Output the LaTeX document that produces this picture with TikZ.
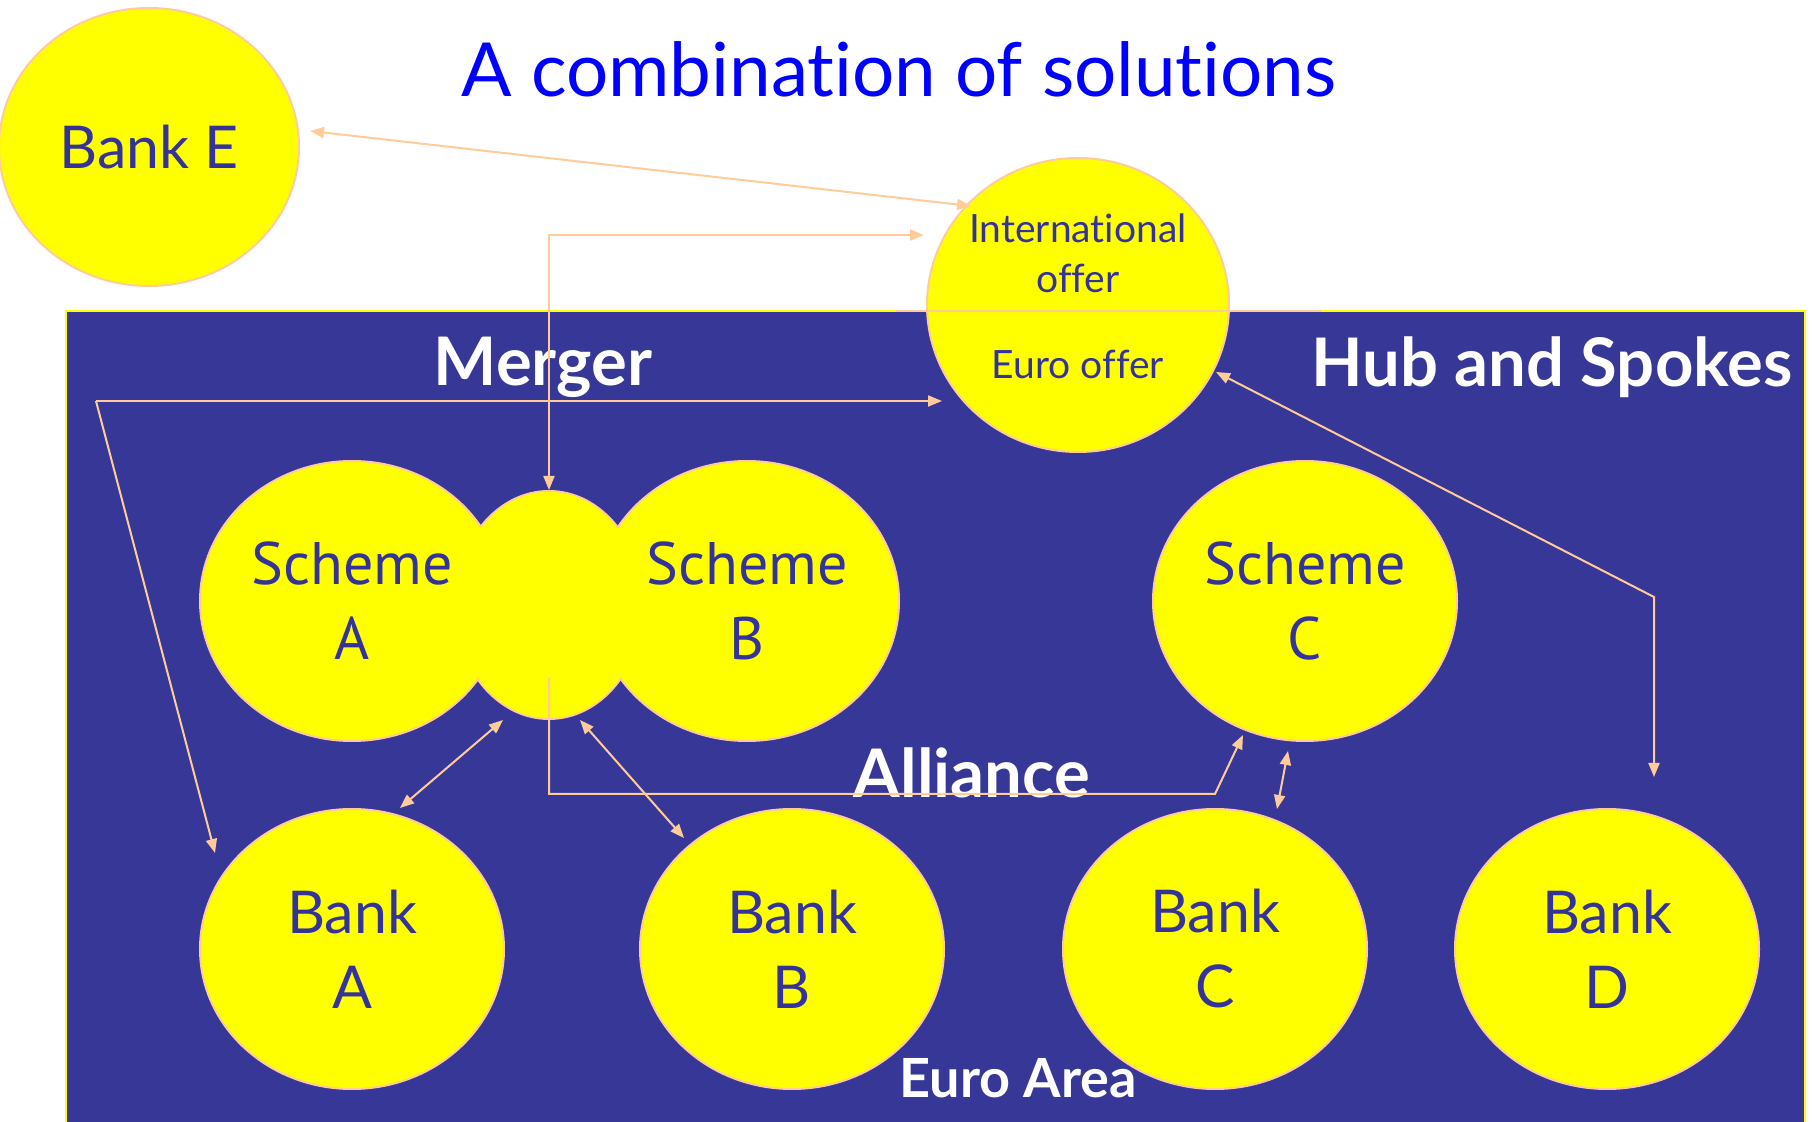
\documentclass[tikz,border=0pt]{standalone}
\usepackage{fontspec}
\setmainfont{Lato}[Ligatures=NoCommon]
\newfontfamily\schemefont{PT Sans}
\usetikzlibrary{shapes.geometric,arrows.meta,calc}
\definecolor{areablue}{RGB}{55,55,151}
\definecolor{inkblue}{RGB}{51,51,153}
\definecolor{peach}{RGB}{255,204,153}
\definecolor{titleblue}{RGB}{0,0,255}
\definecolor{bulb}{RGB}{255,255,0}
\begin{document}
\begin{tikzpicture}[x=0.5pt,y=-0.5pt,
  blob/.style={ellipse, fill=bulb, draw=peach, line width=1pt, inner sep=0pt,
    text=inkblue, align=center},
  bigblob/.style={blob, minimum width=152pt, minimum height=140pt},
  banktext/.style={font=\fontsize{29.5}{37.5}\selectfont},
  schemetext/.style={font=\schemefont\fontsize{30}{37.5}\selectfont},
  offertext/.style={text=inkblue, align=center, font=\fontsize{19.5}{25}\selectfont},
  areatitle/.style={text=white, font=\bfseries\fontsize{33.5}{38}\selectfont},
  tip/.tip={Triangle[length=7pt,width=5.5pt]},
  link/.style={draw=peach, line width=1pt, -tip},
  duo/.style={draw=peach, line width=1pt, tip-tip}]

\path[use as bounding box] (0,0) rectangle (1812,1122);

% Euro area
\draw[fill=areablue, draw=bulb, line width=1pt] (66,311) rectangle (1805,1130);

% title
\node[text=titleblue, font=\fontsize{37.3}{42}\selectfont] (title) at (899,69) {A combination of solutions};

% outside bank and the two-level offer
\node[blob, minimum width=150pt, minimum height=139pt, banktext] (bankE) at (149,147) {Bank E};
\node[blob, minimum width=151pt, minimum height=147pt] (offer) at (1078,305) {};
\draw[peach, line width=1pt] ($(offer)+(-182,6)$) -- ($(offer)+(243,6)$);
\node[offertext] (intl) at (1078,253) {International\\offer};
\node[offertext] (euro) at (1078,364) {Euro offer};

% merged schemes A and B
\node[blob, minimum width=94pt, minimum height=114pt] (merge) at (549,605) {};
\node[bigblob, schemetext] (schemeA) at (352,601) {Scheme\\A};
\node[bigblob, schemetext] (schemeB) at (747,601) {Scheme\\B};
\fill[bulb] (merge.center) ellipse [x radius=46.5pt, y radius=56.5pt];

\node[bigblob, schemetext] (schemeC) at (1305,601) {Scheme\\C};

% banks
\node[bigblob, banktext] (bankA) at (352,949) {Bank\\A};
\node[bigblob, banktext] (bankB) at (792,949) {Bank\\B};
\node[bigblob, banktext] (bankC) at (1215,949) {Bank\\C};
\node[bigblob, banktext] (bankD) at (1607,949) {Bank\\D};

% area labels
\node[areatitle] (merger) at (543,367) {Merger};
\node[areatitle] (hub) at (1552,367) {Hub and Spokes};
\node[areatitle] (alliance) at (972,773) {Alliance};
\node[areatitle, font=\bfseries\fontsize{27}{31}\selectfont] (euroarea) at (1018,1078) {Euro Area};

% connectors
\draw[duo] ($(bankE)+(161,-16)$) -- ($(offer)+(-107,-99)$);
\draw[duo] (merge.north) |- ($(offer)+(-154,-70)$);

\coordinate (mk) at (96,401);
\draw[link] (mk) -- ($(offer)+(-136,96)$);
\draw[link] (mk) -- ($(bankA)+(-137,-96)$);

\draw[duo] ($(bankA)+(48,-141)$) -- ($(merge)+(-46,115)$);
\draw[duo] ($(merge)+(31,115)$) -- ($(bankB)+(-108,-111)$);

\coordinate (ak) at (1215,794);
\draw[link] ($(merge)+(0,73)$) |- (ak) -- ($(schemeC)+(-62,134)$);
\draw[duo] ($(schemeC)+(-17,150)$) -- ($(bankC)+(62,-140)$);

\coordinate (hk) at (1654,597);
\draw[duo] ($(offer)+(138,67)$) -- (hk) -- ($(bankD)+(47,-172)$);
\end{tikzpicture}
\end{document}
